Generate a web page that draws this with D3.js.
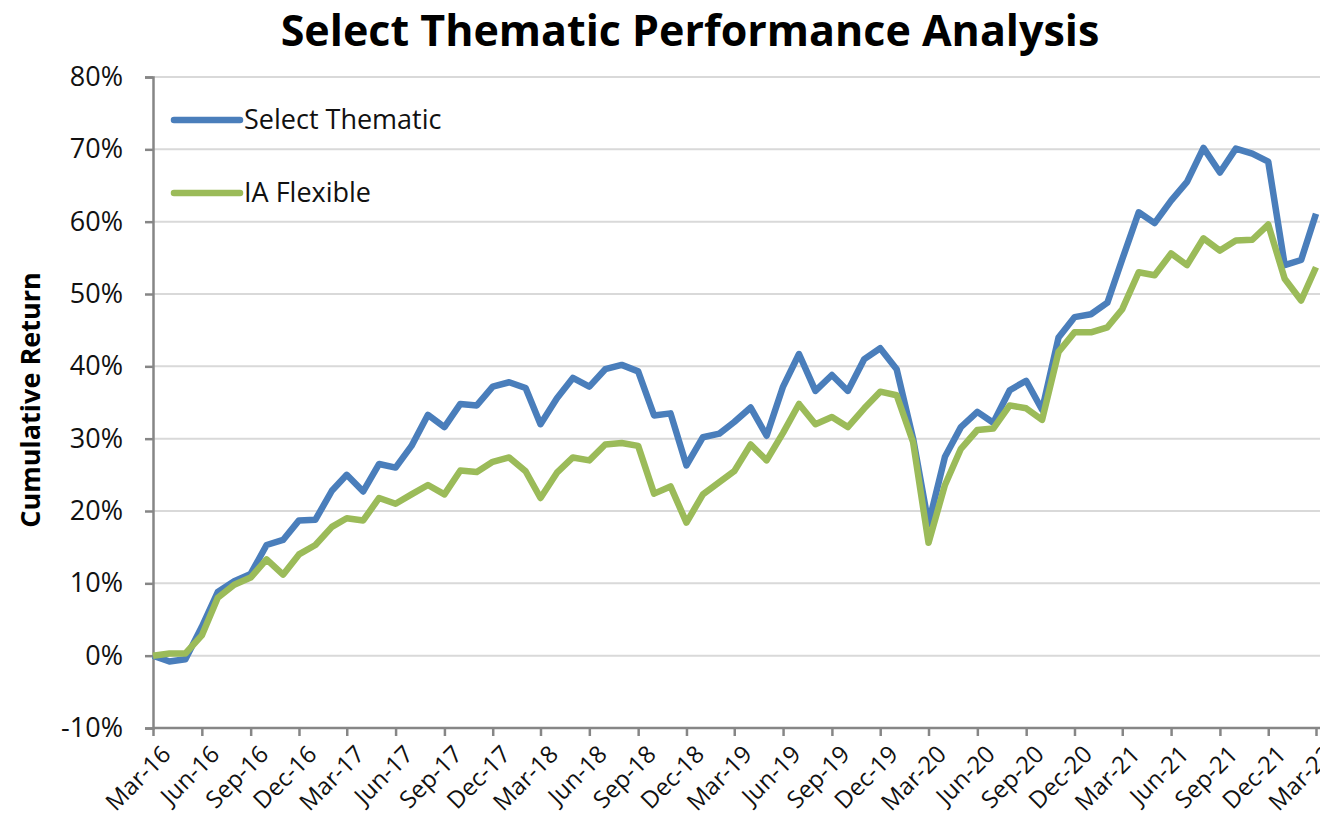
<!DOCTYPE html>
<html>
<head>
<meta charset="utf-8">
<script src="https://cdn.jsdelivr.net/npm/d3@7"></script>
<style>
  body { margin: 0; background: #fff; }
  svg { display: block; font-family: "Open Sans", "Liberation Sans", sans-serif; }
</style>
</head>
<body>
<div id="plot"></div>
<script>
// Width and height
const w = 1320;
const h = 829;
const margin = {top: 77, right: 3, bottom: 101, left: 153};
const innerWidth = w - margin.left - margin.right;
const innerHeight = h - margin.top - margin.bottom;

// monthly points, Mar-16 .. Mar-22
const months = d3.timeMonth.range(new Date(2016, 2, 1), new Date(2022, 3, 1));

const selectThematic = [
  0, -0.8, -0.5, 4.0, 8.8, 10.3, 11.3, 15.3, 16.0, 18.7, 18.8, 22.8,
  25.0, 22.7, 26.5, 26.0, 29.0, 33.3, 31.6, 34.8, 34.6, 37.2, 37.8, 37.0,
  32.0, 35.6, 38.4, 37.2, 39.6, 40.2, 39.3, 33.2, 33.5, 26.3, 30.2, 30.7,
  32.3, 34.3, 30.4, 37.2, 41.7, 36.6, 38.8, 36.6, 41.0, 42.5, 39.6, 30.0,
  18.2, 27.5, 31.6, 33.7, 32.2, 36.7, 38.0, 34.0, 44.0, 46.8, 47.2, 48.8,
  54.8, 61.3, 59.8, 62.9, 65.5, 70.2, 66.8, 70.1, 69.4, 68.3, 54.0, 54.7,
  61.1
];

const iaFlexible = [
  0, 0.3, 0.3, 2.8, 8.0, 9.8, 10.8, 13.3, 11.2, 14.0, 15.3, 17.8,
  19.0, 18.7, 21.8, 21.0, 22.3, 23.6, 22.3, 25.6, 25.4, 26.8, 27.4, 25.5,
  21.8, 25.3, 27.4, 27.0, 29.2, 29.4, 29.0, 22.4, 23.4, 18.4, 22.3, 24.0,
  25.5, 29.2, 27.0, 30.8, 34.8, 32.0, 33.0, 31.6, 34.2, 36.5, 36.0, 29.5,
  15.6, 23.6, 28.6, 31.2, 31.4, 34.6, 34.2, 32.6, 42.0, 44.7, 44.7, 45.4,
  47.9, 53.0, 52.6, 55.6, 54.0, 57.7, 56.0, 57.4, 57.5, 59.6, 52.1, 49.1,
  53.7
];

const seriesNames = ["Select Thematic", "IA Flexible"];
const seriesColors = ["#4a7ebb", "#9bbb59"];
const yTicks = [-10, 0, 10, 20, 30, 40, 50, 60, 70, 80];

const xScale = d3.scaleTime()
  .domain([months[0], months[months.length - 1]])
  .range([0, innerWidth - 1]);

const yScale = d3.scaleLinear()
  .domain([-10, 80])
  .range([innerHeight, 0]);

const svg = d3.select("div#plot")
  .append("svg")
    .attr("width", w)
    .attr("height", h);

// title
svg.append("text")
  .attr("x", 690)
  .attr("y", 46)
  .attr("text-anchor", "middle")
  .style("font-size", "43px")
  .style("font-weight", "bold")
  .attr("fill", "#000")
  .text("Select Thematic Performance Analysis");

const g = svg.append("g")
  .attr("id", "plot")
  .attr("transform", `translate (${margin.left}, ${margin.top})`);

// gridlines
g.append("g")
  .selectAll("line")
  .data(yTicks)
  .enter()
  .append("line")
    .attr("x1", 0)
    .attr("x2", innerWidth + 10)
    .attr("y1", d => yScale(d))
    .attr("y2", d => yScale(d))
    .attr("stroke", "#d9d9d9")
    .attr("stroke-width", 2);

// y-axis
const yAxis = d3.axisLeft(yScale)
  .tickValues(yTicks)
  .tickSize(8)
  .tickPadding(22)
  .tickFormat(d => d + "%");

g.append("g")
  .attr("id", "yaxis")
  .call(yAxis)
  .call(ax => {
    ax.select(".domain").attr("stroke", "#868686").attr("stroke-width", 2.5);
    ax.selectAll(".tick line").attr("stroke", "#868686").attr("stroke-width", 2.5);
    ax.selectAll("text")
      .style("font-size", "27px")
      .style("font-family", "Open Sans, sans-serif")
      .attr("fill", "#111");
  });

// x-axis
const xTicks = months.filter((d, i) => i % 3 === 0);
const xAxis = d3.axisBottom(xScale)
  .tickValues(xTicks)
  .tickSize(8)
  .tickSizeOuter(0)
  .tickFormat(d3.timeFormat("%b-%y"));

g.append("g")
  .attr("id", "xaxis")
  .attr("transform", `translate (0, ${innerHeight})`)
  .call(xAxis)
  .call(ax => {
    ax.select(".domain").attr("d", `M0,0H${innerWidth + 10}`)
      .attr("stroke", "#868686").attr("stroke-width", 2.5);
    ax.selectAll(".tick line").attr("stroke", "#868686").attr("stroke-width", 2.5);
    ax.selectAll("text")
      .style("font-size", "24px")
      .style("font-family", "Open Sans, sans-serif")
      .attr("fill", "#111")
      .attr("text-anchor", "end")
      .attr("dy", "0.35em")
      .attr("transform", "translate(5, 14) rotate(-45)");
  });

// y-axis label
g.append("text")
  .attr("transform", "rotate(-90)")
  .attr("x", -(400 - margin.top))
  .attr("y", 40 - margin.left)
  .attr("text-anchor", "middle")
  .style("font-size", "27px")
  .style("font-weight", "bold")
  .text("Cumulative Return");

// lines
const series = [selectThematic, iaFlexible];
const line = d3.line()
  .x((d, i) => xScale(months[i]))
  .y(d => yScale(d));

g.selectAll("path.series")
  .data(series)
  .enter()
  .append("path")
    .attr("class", "series")
    .attr("fill", "none")
    .attr("stroke", (d, i) => seriesColors[i])
    .attr("stroke-width", 6.5)
    .attr("stroke-linejoin", "round")
    .attr("d", line);

// legend
const legend = g.append("g")
  .selectAll("g")
  .data(seriesNames)
  .enter()
  .append("g")
    .attr("transform", (d, i) => `translate(${174 - margin.left}, ${120 - margin.top + i * 73})`);

legend.append("line")
  .attr("x1", 0)
  .attr("x2", 66)
  .attr("stroke", (d, i) => seriesColors[i])
  .attr("stroke-width", 6.5)
  .attr("stroke-linecap", "round");

legend.append("text")
  .attr("x", 70)
  .attr("dy", "0.35em")
  .style("font-size", "27px")
  .attr("fill", "#111")
  .text(d => d);
</script>
</body>
</html>
